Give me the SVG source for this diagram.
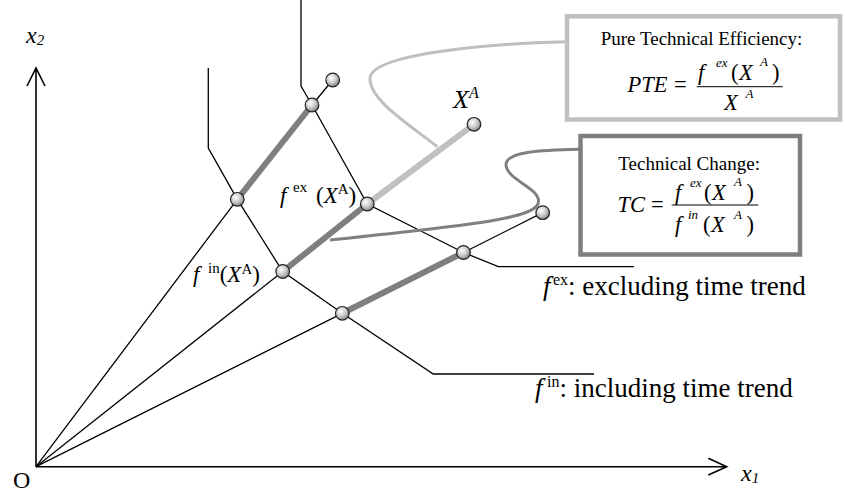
<svg xmlns="http://www.w3.org/2000/svg" width="845" height="492" viewBox="0 0 845 492">
  <style>
    .thin { stroke: #000; stroke-width: 1.3; fill: none; }
    .axis { stroke: #000; stroke-width: 1.6; fill: none; }
    .dark { stroke: #7f7f7f; stroke-width: 6; fill: none; }
    .light { stroke: #c0c0c0; stroke-width: 6; fill: none; }
    .lead-light { stroke: #bfbfbf; stroke-width: 3; fill: none; }
    .lead-dark { stroke: #808080; stroke-width: 3; fill: none; }
    .node { fill: url(#ball); stroke: #222; stroke-width: 1.2; }
    .box-light { fill: #fff; stroke: #c0c0c0; stroke-width: 4.5; }
    .box-dark { fill: #fff; stroke: #7f7f7f; stroke-width: 4.5; }
    .bar { stroke: #000; stroke-width: 1; }
    text { font-family: "Liberation Serif", "Times New Roman", serif; fill: #000; }
    .it { font-style: italic; }
    .t19 { font-size: 19px; }
    .m { font-size: 22.5px; }
    .s { font-size: 13px; font-style: italic; }
    .t15 { font-size: 15px; }
    .t16 { font-size: 16px; }
    .t23 { font-size: 23px; }
    .t24 { font-size: 24px; }
    .t26 { font-size: 26px; }
    .t27 { font-size: 27px; }
  </style>
  <defs>
    <radialGradient id="ball" cx="0.38" cy="0.35" r="0.7">
      <stop offset="0" stop-color="#ffffff"/>
      <stop offset="0.55" stop-color="#c8c8c8"/>
      <stop offset="1" stop-color="#7a7a7a"/>
    </radialGradient>
  </defs>

  <!-- axes -->
  <g id="axes">
    <path class="axis" d="M36 466.7 H726.7 M708.3 458.3 L726.7 466.7 L708.3 475"/>
    <path class="axis" d="M36 466.7 V68 M27 86 L36 68 L45 86"/>
    <text class="t24" x="13" y="488">O</text>
    <text class="t24 it" x="26" y="43">x<tspan class="t15" dy="2">2</tspan></text>
    <text class="t24 it" x="741" y="481">x<tspan class="t15" dy="2">1</tspan></text>
  </g>

  <g id="connectors">
    <!-- rays from the origin -->
    <path class="thin" d="M36 466.7 L237.3 199.3 M312 105 L332.7 80"/>
    <path class="thin" d="M36 466.7 L282.7 271.5"/>
    <path class="thin" d="M36 466.7 L342.3 313.3 M463.5 252.5 L542.7 212.7"/>
    <!-- isoquants -->
    <path class="thin" d="M301 -2 V86 L312 105 L367.3 204 L463.5 252.5 L498.3 266.7 H634"/>
    <path class="thin" d="M208.3 68 V148 L237.3 199.3 L282.7 271.5 L342.3 313.3 L433.3 374 H594"/>
    <!-- distance segments -->
    <path class="dark" d="M237.3 199.3 L312 105"/>
    <path class="dark" d="M282.7 271.5 L367.3 204"/>
    <path class="dark" d="M342.3 313.3 L463.5 252.5"/>
    <path class="light" d="M367.3 204 L474 124.3"/>
    <!-- leaders to the boxes -->
    <path class="lead-light" d="M566 41.7 C480 44 372 55 370 78 C369 100 410 125 437.3 146.7"/>
    <path class="lead-dark" d="M579 149.3 C540 150 505 152 506 165 C507 180 540 188 538.5 202 C537 218 480 224 330 240"/>
  </g>

  <g id="node-a1"><circle class="node" cx="332.7" cy="80" r="6.8"/></g>
  <g id="node-a2"><circle class="node" cx="312" cy="105" r="6.8"/></g>
  <g id="node-b1"><circle class="node" cx="237.3" cy="199.3" r="6.8"/></g>
  <g id="node-xa">
    <circle class="node" cx="474" cy="124.3" r="6.8"/>
    <text class="t26 it" x="453" y="108">X<tspan class="t16" dy="-10">A</tspan></text>
  </g>
  <g id="node-fex">
    <circle class="node" cx="367.3" cy="204" r="6.8"/>
    <text class="t23" x="280" y="203"><tspan class="it">f</tspan><tspan class="t15" x="293" dy="-11">ex</tspan><tspan x="316" dy="11">(</tspan><tspan class="it">X</tspan><tspan class="t15" dy="-9">A</tspan><tspan dy="9">)</tspan></text>
  </g>
  <g id="node-fin">
    <circle class="node" cx="282.7" cy="271.5" r="6.8"/>
    <text class="t23" x="193" y="282"><tspan class="it">f</tspan><tspan class="t15" x="208" dy="-9">in</tspan><tspan dy="9">(</tspan><tspan class="it">X</tspan><tspan class="t15" dy="-8">A</tspan><tspan dy="8">)</tspan></text>
  </g>
  <g id="node-d1"><circle class="node" cx="542.7" cy="212.7" r="6.8"/></g>
  <g id="node-d2"><circle class="node" cx="463.5" cy="252.5" r="6.8"/></g>
  <g id="node-d3"><circle class="node" cx="342.3" cy="313.3" r="6.8"/></g>

  <g id="label-fex">
    <text class="t27" x="543" y="295"><tspan class="it">f</tspan><tspan class="t16" x="553" dy="-10">ex</tspan><tspan dy="10">: excluding time trend</tspan></text>
  </g>
  <g id="label-fin">
    <text class="t27" x="535" y="396.7"><tspan class="it">f</tspan><tspan class="t16" x="547" dy="-10">in</tspan><tspan dy="10">: including time trend</tspan></text>
  </g>

  <g id="box-pte">
    <rect class="box-light" x="567" y="16.3" width="273" height="103.2"/>
    <text class="t19" x="600.7" y="45">Pure Technical Efficiency:</text>
    <text class="m it" x="627.5" y="91.7">PTE</text>
    <text class="m" x="674" y="92">=</text>
    <line class="bar" x1="696.7" y1="86.7" x2="782.7" y2="86.7"/>
    <text class="m it" x="698" y="80">f</text>
    <text class="s" x="716" y="67">ex</text>
    <text class="m" x="731" y="80">(</text>
    <text class="m it" x="739" y="80">X</text>
    <text class="s" x="760" y="66">A</text>
    <text class="m" x="772" y="80">)</text>
    <text class="m it" x="724" y="110">X</text>
    <text class="s" x="745.5" y="98">A</text>
  </g>

  <g id="box-tc">
    <rect class="box-dark" x="580.5" y="136" width="219.5" height="118.5"/>
    <text class="t19" x="618.3" y="170">Technical Change:</text>
    <text class="m it" x="617.5" y="211.7">TC</text>
    <text class="m" x="651" y="212">=</text>
    <line class="bar" x1="671.7" y1="205" x2="758.3" y2="205"/>
    <text class="m it" x="675" y="199.5">f</text>
    <text class="s" x="690" y="186.5">ex</text>
    <text class="m" x="704" y="199.5">(</text>
    <text class="m it" x="712" y="199.5">X</text>
    <text class="s" x="734" y="186">A</text>
    <text class="m" x="746.5" y="199.5">)</text>
    <text class="m it" x="675" y="231.7">f</text>
    <text class="s" x="688" y="219">in</text>
    <text class="m" x="703" y="231.7">(</text>
    <text class="m it" x="711" y="231.7">X</text>
    <text class="s" x="734" y="219">A</text>
    <text class="m" x="746.5" y="231.7">)</text>
  </g>
</svg>
